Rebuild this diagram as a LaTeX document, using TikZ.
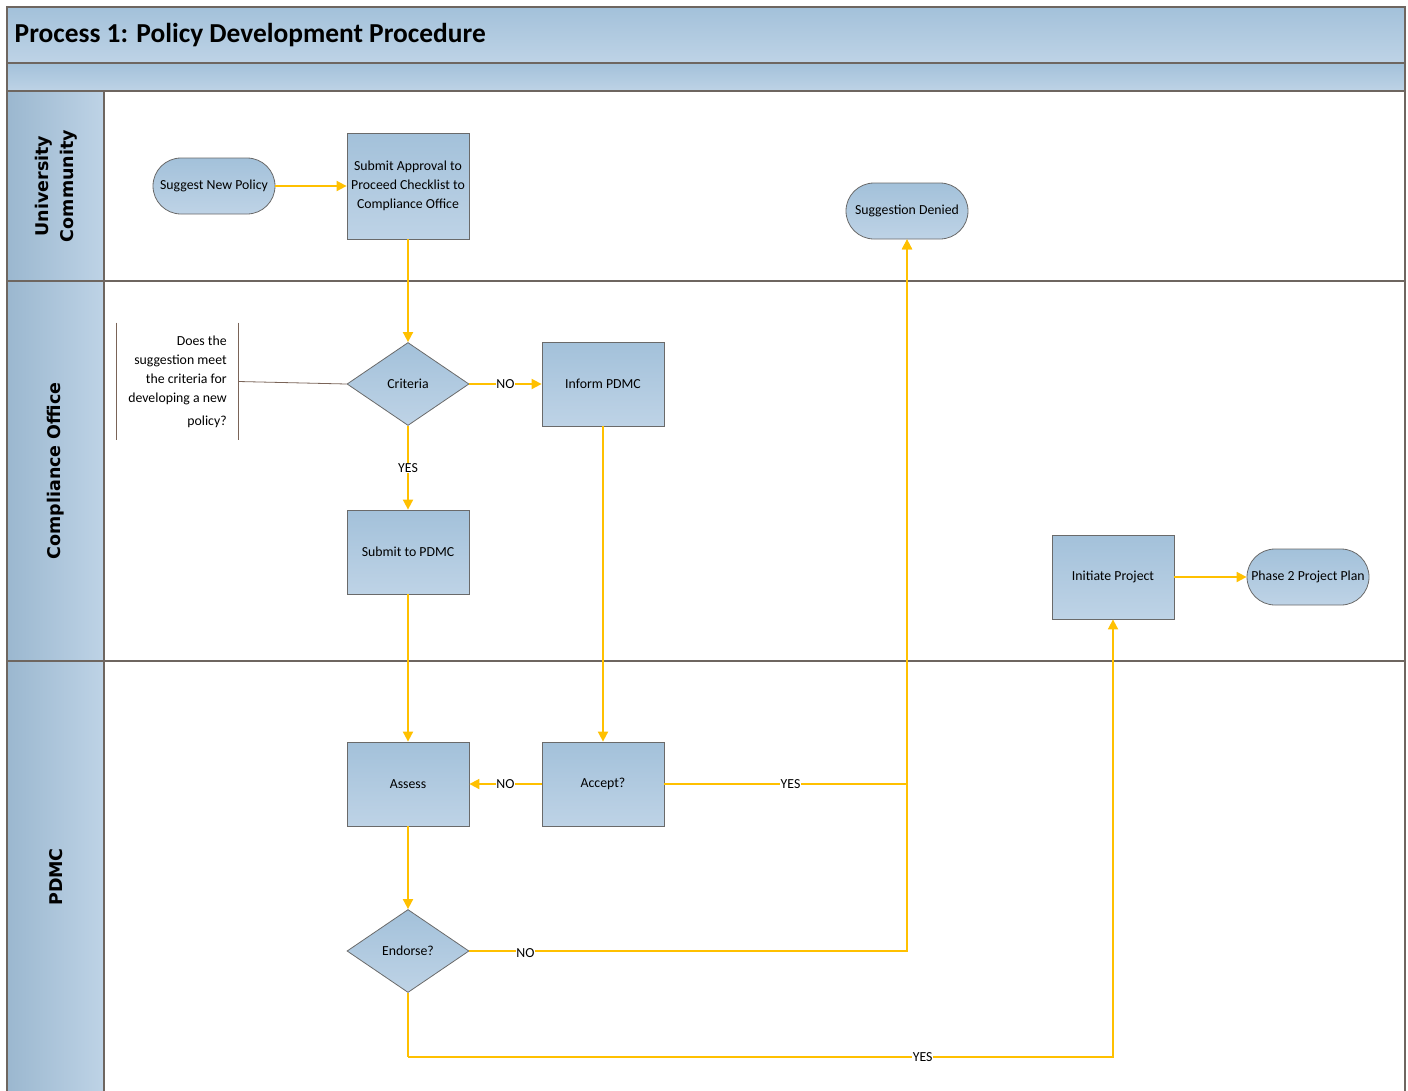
\documentclass[tikz,border=0pt]{standalone}
\usepackage{fontspec}
\setmainfont{Carlito}
\newfontfamily\lanefont{DejaVu Sans}
\usetikzlibrary{shapes.geometric,shapes.misc,arrows.meta}

\definecolor{boxtop}{HTML}{A3C1DA}
\definecolor{boxbot}{HTML}{BED3E6}
\definecolor{boxline}{HTML}{6A6A6A}
\definecolor{frameline}{HTML}{6E6660}
\definecolor{flowcol}{HTML}{FFC000}
\definecolor{notecol}{HTML}{7A6458}

\begin{document}
\begin{tikzpicture}[x=1pt, y=-1pt, thick]

% =========================
% Styles
% =========================
\tikzstyle{process} = [
    rectangle, draw=boxline,
    line width=0.8pt,
    top color=boxtop, bottom color=boxbot,
    minimum width=122pt,
    minimum height=84pt,
    align=center,
    inner sep=0pt,
    font=\fontsize{13.8}{19}\selectfont
]

\tikzstyle{terminal} = [
    rounded rectangle, draw=boxline,
    line width=0.8pt,
    top color=boxtop, bottom color=boxbot,
    minimum width=122pt,
    minimum height=56pt,
    inner sep=0pt,
    font=\fontsize{13.8}{19}\selectfont
]

\tikzstyle{decision} = [
    diamond, draw=boxline,
    line width=0.8pt,
    top color=boxtop, bottom color=boxbot,
    minimum width=122pt,
    minimum height=83pt,
    aspect=1.47,
    inner sep=0pt,
    font=\fontsize{13.8}{19}\selectfont
]

\tikzstyle{lane} = [
    rotate=90,
    align=center,
    font=\lanefont\bfseries\fontsize{17.5}{25}\selectfont
]

\tikzstyle{flow} = [draw=flowcol, line width=1.8pt, -{Triangle[length=10pt,width=10pt]}]
\tikzstyle{tag} = [fill=white, inner sep=0.5pt, font=\fontsize{13.8}{16}\selectfont]

\useasboundingbox (0,0) rectangle (1408,1090);

% =========================
% Frame and lanes
% =========================
\shade[top color=boxtop, bottom color=boxbot] (7,7) rectangle (1405,63);
\shade[top color=boxtop, bottom color=boxbot] (7,63) rectangle (1405,91);
\shade[left color=boxtop!95!black, right color=boxbot] (7,91) rectangle (104,1095);
\draw[frameline, line width=1.2pt] (7,1095) -- (7,7) -- (1405,7) -- (1405,1095);
\draw[frameline, line width=1.2pt] (7,63) -- (1405,63);
\draw[frameline, line width=1.2pt] (7,91) -- (1405,91);
\draw[frameline, line width=1.2pt] (7,281) -- (1405,281);
\draw[frameline, line width=1.2pt] (7,661) -- (1405,661);
\draw[frameline, line width=1.2pt] (104,91) -- (104,1095);

\node[anchor=west, font=\bfseries\fontsize{27.4}{30}\selectfont] (title) at (11,35)
    {Process 1: Policy Development Procedure};

\node[lane] (lanecomm) at (56,186) {University\\Community};
\node[lane] (lanecomp) at (56,471) {Compliance Office};
\node[lane] (lanepdmc) at (56,877) {PDMC};

% =========================
% Nodes (FIXED POSITIONS)
% =========================
\node[terminal] (suggest) at (214,186) {Suggest New Policy};

\node[process, minimum height=106pt] (approval) at (408,186)
    {Submit Approval to\\Proceed Checklist to\\Compliance Office};

\node[terminal] (denied) at (907,211) {Suggestion Denied};

\node[decision] (criteria) at (408,384) {Criteria};

\node[process] (inform) at (603,384) {Inform PDMC};

\node[process] (submit) at (408,552) {Submit to PDMC};

\node[process] (initiate) at (1113,577) {Initiate Project};

\node[terminal] (phase) at (1308,577) {Phase 2 Project Plan};

\node[process] (assess) at (408,784) {Assess};

\node[process] (accept) at (603,784) {Accept?};

\node[decision] (endorse) at (408,951) {Endorse?};

\node[minimum width=121pt, minimum height=117pt,
      align=right, inner sep=0pt,
      font=\fontsize{13.8}{19}\selectfont] (note) at (177.5,381.5)
    {Does the\\suggestion meet\\the criteria for\\developing a new\\[4pt]policy?};

\coordinate (endbend) at (408,1057);

% =========================
% Connections
% =========================
\draw[notecol, line width=0.8pt] (note.north west) -- (note.south west);
\draw[notecol, line width=0.8pt] (note.north east) -- (note.south east);
\draw[notecol, line width=0.8pt] (note.east) -- (criteria.west);

\path[flow] (suggest.east) -- (approval.west);
\path[flow] (approval.south) -- (criteria.north);

\path[flow] (criteria.east) -- node[tag] {NO} (inform.west);
\path[flow] (criteria.south) -- node[tag] {YES} (submit.north);

\path[flow] (inform.south) -- (accept.north);
\path[flow] (submit.south) -- (assess.north);

\path[flow] (accept.west) -- node[tag] {NO} (assess.east);
\path[flow] (accept.east) -| node[tag, pos=0.26] {YES} (denied.south);

\path[flow] (assess.south) -- (endorse.north);
\path[flow] (endorse.east) -| node[tag, pos=0.064, yshift=-2pt] {NO} (denied.south);

\path[draw=flowcol, line width=1.8pt] (endorse.south) -- (endbend);
\path[flow] (endbend) -| node[tag, pos=0.365] {YES} (initiate.south);

\path[flow] (initiate.east) -- (phase.west);

\end{tikzpicture}
\end{document}
